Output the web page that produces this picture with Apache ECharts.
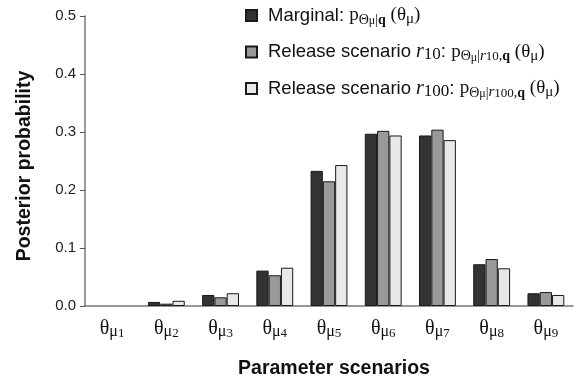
<!DOCTYPE html>
<html><head><meta charset="utf-8">
<script src="https://cdn.jsdelivr.net/npm/echarts@6/dist/echarts.min.js"></script>
<style>html,body{margin:0;padding:0;background:#fff}#c{width:584px;height:384px}</style>
</head><body><div id="c"></div>
<script>
const categories = ['1','2','3','4','5','6','7','8','9'];
const marginal = [0, 0.007, 0.019, 0.061, 0.233, 0.297, 0.294, 0.072, 0.022];
const release10 = [0, 0.004, 0.015, 0.053, 0.215, 0.302, 0.304, 0.081, 0.024];
const release100 = [0, 0.009, 0.022, 0.066, 0.243, 0.294, 0.286, 0.065, 0.019];
const yTicks = [0, 0.1, 0.2, 0.3, 0.4, 0.5];

const chart = echarts.init(document.getElementById('c'));
const serif = '"Liberation Serif","DejaVu Serif",serif';
const sans = '"Liberation Sans",Arial,sans-serif';
const legendText = {
  marginal: '{s|Marginal: }{p|p}{g|Θ}{gs|μ}{g||}{gb|q}{p| (θ}{g2|μ}{p|)}',
  r10: '{s|Release scenario }{ri|r}{rs|10}{s|: }{p|p}{g|Θ}{gs|μ}{g||}{gi|r}{gd|10}{g|,}{gb|q}{p| (θ}{g2|μ}{p|)}',
  r100: '{s|Release scenario }{ri|r}{rs|100}{s|: }{p|p}{g|Θ}{gs|μ}{g||}{gi|r}{gd|100}{g|,}{gb|q}{p| (θ}{g2|μ}{p|)}'
};
const border = {borderColor:'#1a1a1a', borderWidth:1};
const toData = arr => arr.map(v => v === 0 ? {value:0, itemStyle:{borderWidth:0}} : v);
chart.setOption({
  animation:false,
  grid:{left:85,right:11,top:16,bottom:77},
  legend:{
    orient:'vertical', left:245, top:3, padding:0, itemWidth:11, itemHeight:11, itemGap:12.5, icon:'rect',
    data:['marginal','r10','r100'],
    formatter:n=>legendText[n],
    textStyle:{
      color:'#111', padding:[0,0,0,6],
      rich:{
        s:{fontFamily:sans,fontSize:18.5,lineHeight:23,verticalAlign:'middle'},
        p:{fontFamily:serif,fontSize:19,lineHeight:23,verticalAlign:'middle'},
        ri:{fontFamily:serif,fontSize:20,fontStyle:'italic',lineHeight:23,verticalAlign:'middle'},
        rs:{fontFamily:serif,fontSize:17,lineHeight:17,verticalAlign:'bottom',padding:[6,0,0,0]},
        g:{fontFamily:serif,fontSize:14,lineHeight:14,verticalAlign:'bottom',padding:[7,0,0,0]},
        gb:{fontFamily:serif,fontSize:14,fontWeight:'bold',lineHeight:14,verticalAlign:'bottom',padding:[7,0,0,0]},
        gi:{fontFamily:serif,fontSize:15,fontStyle:'italic',lineHeight:14,verticalAlign:'bottom',padding:[7,0,0,0]},
        gd:{fontFamily:serif,fontSize:13,lineHeight:12,verticalAlign:'bottom',padding:[11,0,0,0]},
        gs:{fontFamily:serif,fontSize:12,lineHeight:12,verticalAlign:'bottom',padding:[11,0,0,0]},
        g2:{fontFamily:serif,fontSize:15,lineHeight:15,verticalAlign:'bottom',padding:[9,0,0,0]}
      }
    }
  },
  xAxis:{
    type:'category', data:categories,
    name:'Parameter scenarios', nameLocation:'middle', nameGap:53,
    nameTextStyle:{fontFamily:sans,fontSize:19.5,fontWeight:'bold',color:'#111',padding:[0,0,0,10]},
    axisLine:{lineStyle:{color:'#777',width:1.5}},
    axisTick:{inside:true,length:4,lineStyle:{color:'#555'}},
    axisLabel:{
      margin:12, interval:0,
      formatter:v=>'{t|θ}{m|μ}{d|'+v+'}',
      rich:{
        t:{fontFamily:serif,fontSize:20,color:'#111',lineHeight:22,verticalAlign:'middle'},
        m:{fontFamily:serif,fontSize:16,color:'#111',lineHeight:16,verticalAlign:'bottom',padding:[8,0,0,0]},
        d:{fontFamily:serif,fontSize:13,color:'#111',lineHeight:13,verticalAlign:'bottom',padding:[14,0,0,0]}
      }
    }
  },
  yAxis:{
    type:'value', min:0, max:0.5, interval:0.1,
    name:'Posterior probability', nameLocation:'middle', nameGap:50,
    nameTextStyle:{fontFamily:sans,fontSize:19.5,fontWeight:'bold',color:'#111',padding:[0,10,0,0]},
    axisLine:{show:true,lineStyle:{color:'#777',width:1.5}},
    axisTick:{show:true,length:5,lineStyle:{color:'#555'}},
    splitLine:{show:false},
    axisLabel:{fontFamily:sans,fontSize:15,color:'#222',margin:9,
      formatter:v=>{const i=yTicks.findIndex(t=>Math.abs(t-v)<1e-9);return i>=0?yTicks[i].toFixed(1):'';}}
  },
  series:[
    {name:'marginal',type:'bar',data:toData(marginal),barGap:'0%',barCategoryGap:'32%',itemStyle:Object.assign({color:'#333333'},border)},
    {name:'r10',type:'bar',data:toData(release10),barGap:'0%',barCategoryGap:'32%',itemStyle:Object.assign({color:'#999999'},border)},
    {name:'r100',type:'bar',data:toData(release100),barGap:'0%',barCategoryGap:'32%',itemStyle:Object.assign({color:'#e8e8e8'},border)}
  ]
});
</script></body></html>
